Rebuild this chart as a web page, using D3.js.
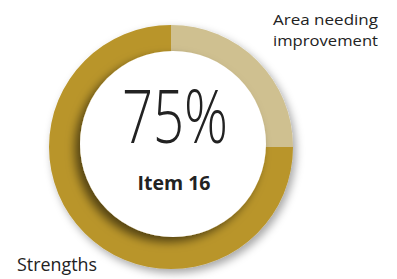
<!DOCTYPE html>
<html>
<head>
<meta charset="utf-8">
<script src="https://cdn.jsdelivr.net/npm/d3@7"></script>
<style>
  body { margin: 0; background: #fff; }
  text { font-family: "Open Sans", "DejaVu Sans Condensed", sans-serif; fill: #222; }
</style>
</head>
<body>
<div id="chart"></div>
<script>
// data
var categories = ["Area needing improvement", "Strengths"];
var values = [25, 75];
var colors = ["#CFC090", "#B9952B"];
var topLines = ["Area needing", "improvement"];
var bigLabel = "75%";
var itemLabel = "Item 16";

var width = 397, height = 279,
    cx = 171, cy = 147,
    outerR = 122, innerR = 93;

var svg = d3.select("#chart").append("svg")
  .attr("width", width)
  .attr("height", height);

var defs = svg.append("defs");
var ringShadow = defs.append("filter").attr("id", "ringShadow")
  .attr("x", "-20%").attr("y", "-20%").attr("width", "140%").attr("height", "140%");
ringShadow.append("feDropShadow")
  .attr("dx", 3).attr("dy", 4).attr("stdDeviation", 4)
  .attr("flood-color", "#000").attr("flood-opacity", 0.35);

var holeShadow = defs.append("filter").attr("id", "holeShadow")
  .attr("x", "-30%").attr("y", "-30%").attr("width", "160%").attr("height", "160%");
holeShadow.append("feDropShadow")
  .attr("dx", -5).attr("dy", 5).attr("stdDeviation", 5)
  .attr("flood-color", "#000").attr("flood-opacity", 0.55);

// pie, clockwise from 12 o'clock, small slice first
var pie = d3.pie().sort(null).value(function(d){ return d; });
var arc = d3.arc().innerRadius(0).outerRadius(outerR);

var g = svg.append("g")
  .attr("transform", "translate(" + cx + "," + cy + ")");

g.append("g").attr("filter", "url(#ringShadow)")
  .selectAll("path")
  .data(pie(values))
  .enter().append("path")
  .attr("d", arc)
  .style("fill", function(d, i){ return colors[i]; });

// white hole, a little up and to the right, with shadow
g.append("circle")
  .attr("cx", 2).attr("cy", -3)
  .attr("r", innerR)
  .style("fill", "#fff")
  .attr("filter", "url(#holeShadow)");

// centre texts
g.append("text")
  .attr("x", 4).attr("y", -4)
  .style("text-anchor", "middle")
  .style("font-size", "74px")
  .style("font-weight", "300")
  .attr("textLength", 106)
  .attr("lengthAdjust", "spacingAndGlyphs")
  .text(bigLabel);

g.append("text")
  .attr("x", 3).attr("y", 43)
  .style("text-anchor", "middle")
  .style("font-size", "20px")
  .style("font-weight", "bold")
  .attr("textLength", 73)
  .attr("lengthAdjust", "spacingAndGlyphs")
  .text(itemLabel);

// slice labels
svg.selectAll("text.topLabel")
  .data(topLines)
  .enter().append("text")
  .attr("class", "topLabel")
  .attr("x", 273)
  .attr("y", function(d, i){ return 25 + i * 21; })
  .style("font-size", "15px")
  .attr("textLength", 105)
  .attr("lengthAdjust", "spacingAndGlyphs")
  .text(function(d){ return d; });

svg.append("text")
  .attr("x", 17).attr("y", 271)
  .style("font-size", "18px")
  .attr("textLength", 80)
  .attr("lengthAdjust", "spacingAndGlyphs")
  .text(categories[1]);
</script>
</body>
</html>
